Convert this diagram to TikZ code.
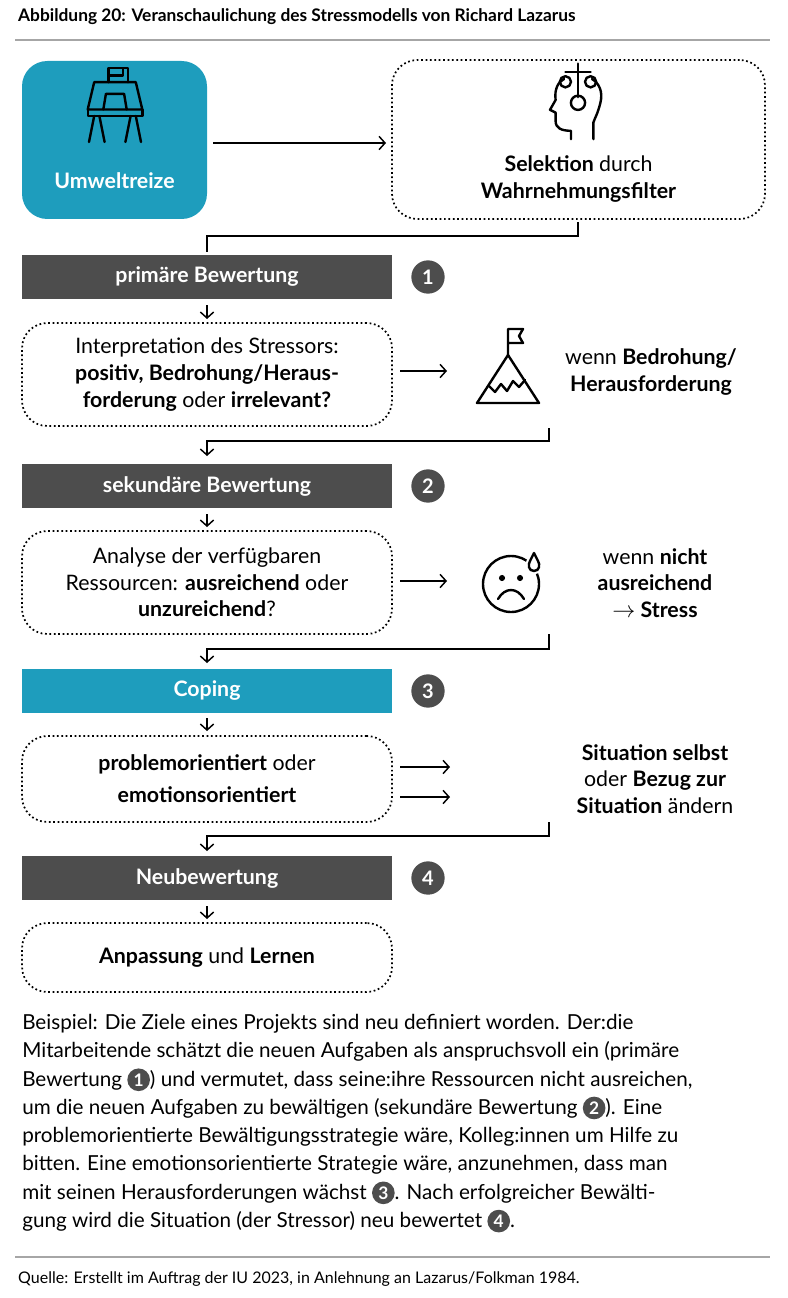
\documentclass[tikz,border=0pt]{standalone}
\usepackage{fontspec}
\setmainfont{Lato}
\usetikzlibrary{positioning, arrows.meta}
\definecolor{teal}{HTML}{1E9DBD}
\definecolor{darkbar}{HTML}{4D4D4D}
\definecolor{rulegray}{HTML}{A6A6A6}
\newcommand{\numdot}[1]{\tikz[baseline=(d.base)]\node[circle,fill=darkbar,text=white,inner sep=0pt,minimum size=17pt,font=\bfseries\fontsize{13}{13}\selectfont] (d) {#1};}

\begin{document}
\begin{tikzpicture}[x=0.75pt, y=-0.75pt, line width=1.1pt, >={Straight Barb[length=4.5pt,width=10pt]}]
    \tikzstyle{dotbox}=[draw, dotted, line width=1.3pt, rounded corners=19pt, align=center, font=\fontsize{16}{20}\selectfont]
    \tikzstyle{bar}=[fill=darkbar, text=white, minimum width=277.5pt, minimum height=33.5pt, font=\bfseries\fontsize{16}{18}\selectfont]
    \tikzstyle{num}=[circle, fill=darkbar, text=white, minimum size=25pt, inner sep=0pt, font=\bfseries\fontsize{15}{15}\selectfont]
    \tikzstyle{side}=[align=center, font=\fontsize{16}{20}\selectfont]
    \tikzstyle{icon}=[line width=1.8pt, line cap=round, line join=round]
    \useasboundingbox (0,0) rectangle (788,1298);

    % header
    \node[anchor=west, font=\bfseries\fontsize{13}{15}\selectfont] (title) at (13,17) {Abbildung 20: Veranschaulichung des Stressmodells von Richard Lazarus};
    \draw[rulegray, line width=1pt] (15,40) -- (770,40);

    % top row
    \node[fill=teal, rounded corners=19pt, minimum width=138.75pt, minimum height=118.5pt] (reize) at (114.5,140) {};
    \node[text=white, font=\bfseries\fontsize{16}{18}\selectfont] (reizetxt) at (114.5,181) {Umweltreize};
    \node[dotbox, minimum width=279.75pt, minimum height=119.25pt] (filter) at (578.5,139.5) {};
    \node[side] (filtertxt) at (578.5,179) {\textbf{Selektion} durch\\\textbf{Wahrnehmungsfilter}};
    \coordinate (a1) at (213,143);
    \coordinate (a2) at (386,143);
    \draw[->] (a1) -- (a2);

    % desk icon
    \begin{scope}[icon, shift={(115,116)}, scale=1.3]
      \draw (-21,-5) -- (21,-5) -- (16,-26) -- (-16,-26) -- cycle;
      \draw (-21,-5) -- (-21,0) -- (21,0) -- (21,-5);
      \draw (-9,-5) -- (-7,-17) -- (7,-17) -- (9,-5);
      \draw (-5,-26) -- (-5,-37) -- (6,-37) -- (6,-31) -- (-5,-31);
      \draw (6,-37) -- (10,-37) -- (10,-26);
      \draw (-16,0) -- (-20,20) (-12,0) -- (-8,20) (12,0) -- (8,20) (16,0) -- (20,20);
    \end{scope}
    % head icon
    \begin{scope}[icon, shift={(578,100)}, scale=1.4]
      \draw (-5,28) -- (-5,22) .. controls (-12,22) and (-16,20) .. (-16,15) -- (-16,9) -- (-20,7) -- (-16,0) .. controls (-17,-8) and (-14,-13) .. (-10,-15);
      \draw (10,-15) .. controls (15,-12) and (18,-6) .. (16,2) .. controls (14,10) and (12,13) .. (11,16) -- (11,28);
      \draw (0,-26) -- (0,-2);
      \draw (-9,-20) -- (9,-20);
      \draw (-9,-13) circle (3pt) (9,-13) circle (3pt) (0,2) circle (3.8pt);
    \end{scope}

    % stage 1
    \coordinate (c1) at (578,222);
    \coordinate (c2) at (207,252);
    \draw (c1) |- (207,236) -- (c2);
    \node[bar] (prim) at (207,277) {primäre Bewertung};
    \node[num] (n1) at (428,277) {1};
    \draw[->] (207,305) coordinate (p1) -- (207,319);
    \node[dotbox, minimum width=277.5pt, minimum height=77.25pt] (interp) at (207,374.5) {Interpretation des Stressors:\\\textbf{positiv, Bedrohung/Heraus-}\\\textbf{forderung} oder \textbf{irrelevant?}};
    \coordinate (b1) at (400,371);
    \coordinate (b2) at (447,371);
    \draw[->] (b1) -- (b2);
    \begin{scope}[icon, shift={(508,385)}]
      \draw (-31,18) -- (0,-30) -- (31,18) -- cycle;
      \draw (-19,1) -- (-13,7) -- (-7,-1) -- (-1,6) -- (5,-4) -- (11,2) -- (17,-5);
      \draw (0,-30) -- (0,-56) -- (15,-56) -- (11,-49) -- (15,-42) -- (0,-42);
    \end{scope}
    \node[side] (threat) at (651,372) {wenn \textbf{Bedrohung/}\\\textbf{Herausforderung}};
    \coordinate (d1) at (549,428);
    \coordinate (d2) at (207,456);
    \draw[->] (d1) |- (207,441) -- (d2);

    % stage 2
    \node[bar] (sek) at (207,486) {sekundäre Bewertung};
    \node[num] (n2) at (428,486) {2};
    \draw[->] (207,514) coordinate (p2) -- (207,527);
    \node[dotbox, minimum width=277.5pt, minimum height=77.25pt] (analyse) at (207,582.5) {Analyse der verfügbaren\\Ressourcen: \textbf{ausreichend} oder\\\textbf{unzureichend}?};
    \coordinate (e1) at (400,581);
    \coordinate (e2) at (447,581);
    \draw[->] (e1) -- (e2);
    \begin{scope}[icon, shift={(511,584)}]
      \draw (0,0) circle (21pt);
      \draw[white, fill=white, line width=5pt] (23,-13) .. controls (17,-13) and (17,-20) .. (19,-23) -- (23,-31) -- (27,-23) .. controls (29,-20) and (29,-13) .. (23,-13);
      \draw (23,-13) .. controls (17,-13) and (17,-20) .. (19,-23) -- (23,-31) -- (27,-23) .. controls (29,-20) and (29,-13) .. (23,-13);
      \fill (-9,-6) circle (2.3pt) (9,-6) circle (2.3pt);
      \draw (-13,15) .. controls (-6,3) and (6,3) .. (13,15);
    \end{scope}
    \node[side] (stress) at (655,583) {wenn \textbf{nicht}\\\textbf{ausreichend}\\\textbf{$\rightarrow$ Stress}};
    \coordinate (f1) at (549,634);
    \coordinate (f2) at (207,663);
    \draw[->] (f1) |- (207,649) -- (f2);

    % stage 3
    \node[bar, fill=teal] (coping) at (207,691) {Coping};
    \node[num] (n3) at (428,691) {3};
    \draw[->] (207,718) coordinate (p3) -- (207,731);
    \node[dotbox, minimum width=277.5pt, minimum height=64.5pt] (orient) at (207,779) {\textbf{problemorientiert} oder\\[4pt]\textbf{emotionsorientiert}};
    \coordinate (g1) at (400,767);
    \coordinate (g2) at (450,767);
    \coordinate (g3) at (400,797);
    \coordinate (g4) at (450,797);
    \draw[->] (g1) -- (g2);
    \draw[->] (g3) -- (g4);
    \node[side] (change) at (655,779) {\textbf{Situation selbst}\\oder \textbf{Bezug zur}\\\textbf{Situation} ändern};
    \coordinate (h1) at (549,822);
    \coordinate (h2) at (207,851);
    \draw[->] (h1) |- (207,836) -- (h2);

    % stage 4
    \node[bar] (neu) at (207,878) {Neubewertung};
    \node[num] (n4) at (428,878) {4};
    \draw[->] (207,906) coordinate (p4) -- (207,919);
    \node[dotbox, minimum width=277.5pt, minimum height=51.75pt] (lernen) at (207,957.5) {\textbf{Anpassung} und \textbf{Lernen}};

    % example text
    \node[anchor=north west, align=left, inner sep=0pt, font=\fontsize{15.5}{21.2}\selectfont] (example) at (22,1014) {Beispiel: Die Ziele eines Projekts sind neu definiert worden. Der:die\\Mitarbeitende schätzt die neuen Aufgaben als anspruchsvoll ein (primäre\\Bewertung \numdot{1}) und vermutet, dass seine:ihre Ressourcen nicht ausreichen,\\um die neuen Aufgaben zu bewältigen (sekundäre Bewertung \numdot{2}). Eine\\problemorientierte Bewältigungsstrategie wäre, Kolleg:innen um Hilfe zu\\bitten. Eine emotionsorientierte Strategie wäre, anzunehmen, dass man\\mit seinen Herausforderungen wächst \numdot{3}. Nach erfolgreicher Bewälti-\\gung wird die Situation (der Stressor) neu bewertet \numdot{4}.};

    % source
    \draw[rulegray, line width=1pt] (15,1257) -- (770,1257);
    \node[anchor=west, font=\fontsize{12}{14}\selectfont] (source) at (13,1279) {Quelle: Erstellt im Auftrag der IU 2023, in Anlehnung an Lazarus/Folkman 1984.};
\end{tikzpicture}
\end{document}
